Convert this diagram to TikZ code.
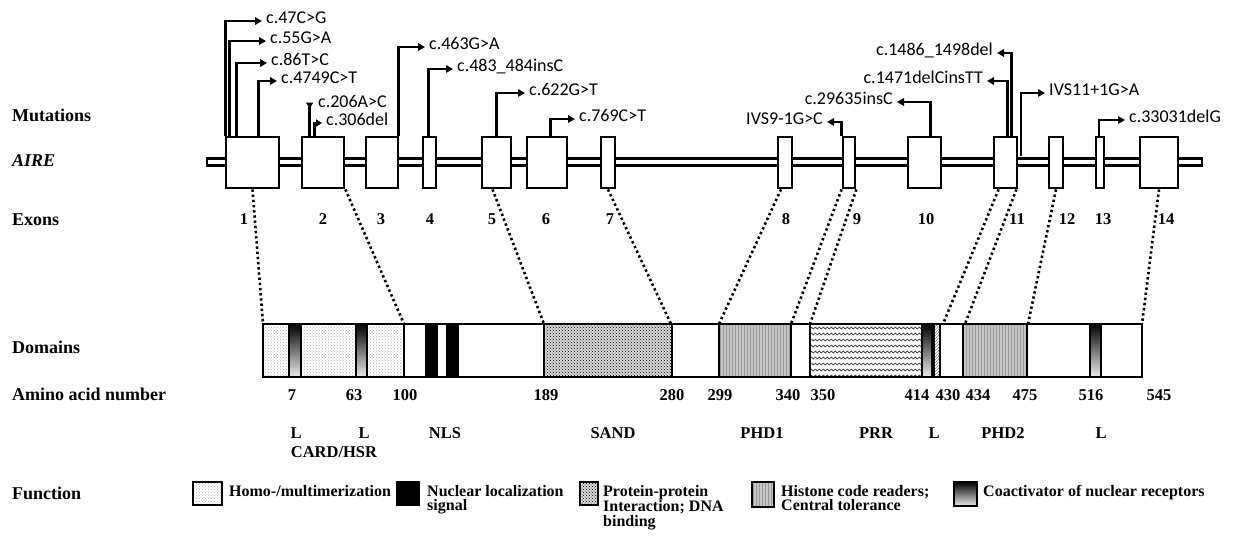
\documentclass[tikz,border=0pt]{standalone}
\usepackage{fontspec}
\setmainfont{Liberation Serif}
\newfontfamily\calfont{Carlito}
\usetikzlibrary{arrows.meta,patterns,calc,decorations.pathmorphing}
\begin{document}
\begin{tikzpicture}[x=1pt,y=-1pt,
  side/.style={font=\fontsize{18}{20}\selectfont\bfseries, anchor=west, inner sep=0pt, text height=12pt, text depth=0pt},
  exon/.style={draw, line width=2.8pt, fill=white, minimum height=51pt, inner sep=0pt},
  mut/.style={line width=2.6pt, -{Triangle[length=7pt,width=7.5pt]}},
  mr/.style={font=\calfont\fontsize{18}{20}\selectfont, inner sep=0pt, inner xsep=4pt, text height=8pt, text depth=3.6pt, anchor=west},
  ml/.style={mr, anchor=east},
  num/.style={font=\fontsize{16.5}{18}\selectfont\bfseries, inner sep=0pt, text height=11pt, text depth=0pt},
  dotl/.style={line width=2.6pt, dash pattern=on 2.4pt off 2.8pt},
  seg/.style={draw, line width=2pt},
  homo/.style={seg, pattern=crosshatch dots, pattern color=gray!60},
  nls/.style={seg, fill=black},
  sand/.style={seg, preaction={fill=gray!30}, pattern=crosshatch dots, pattern color=black},
  phd/.style={seg, preaction={fill=gray!45}, pattern=vertical lines, pattern color=gray!80},
  coact/.style={seg, top color=black, bottom color=gray!15},
  hatch/.style={seg, pattern=north east lines, pattern color=gray},
  leg/.style={font=\fontsize{16}{14.5}\selectfont\bfseries, align=left, inner sep=0pt, anchor=north west},
  legbox/.style={line width=2.6pt}
]
\useasboundingbox (0,0) rectangle (1236,539);

% left labels
\node[side] (lmut) at (12,115) {Mutations};
\node[side] (laire) at (12,160) {\itshape AIRE};
\node[side] (lexon) at (12,219) {Exons};
\node[side] (ldom) at (12,347) {Domains};
\node[side] (laa) at (12,394) {Amino acid number};
\node[side] (lfun) at (12,493) {Function};

% backbone
\node[draw, line width=2.8pt, fill=white, minimum width=995pt, minimum height=7.5pt, inner sep=0pt] (bb) at (704.5,162) {};

% exons
\node[exon, minimum width=53pt] (e1) at (252.5,162.5) {};
\node[exon, minimum width=42pt] (e2) at (323,162.5) {};
\node[exon, minimum width=32pt] (e3) at (382,162.5) {};
\node[exon, minimum width=13pt] (e4) at (429.5,162.5) {};
\node[exon, minimum width=29pt] (e5) at (496.5,162.5) {};
\node[exon, minimum width=40pt] (e6) at (547,162.5) {};
\node[exon, minimum width=14pt] (e7) at (608,162.5) {};
\node[exon, minimum width=14pt] (e8) at (785,162.5) {};
\node[exon, minimum width=12pt] (e9) at (849,162.5) {};
\node[exon, minimum width=33pt] (e10) at (924.5,162.5) {};
\node[exon, minimum width=23pt] (e11) at (1005.5,162.5) {};
\node[exon, minimum width=14pt] (e12) at (1056,162.5) {};
\node[exon, minimum width=8pt] (e13) at (1100,162.5) {};
\node[exon, minimum width=38pt] (e14) at (1159,162.5) {};

% exon numbers
\foreach \n/\xx in {1/244,2/323,3/381,4/430,5/492,6/546,7/610,8/786,9/857,10/926,11/1017,12/1067,13/1103,14/1166}
  \node[num] (n\n) at (\xx,219) {\n};

% mutations
\node[mr] (m1) at (262,21) {c.47C>G};
\node[mr] (m2) at (266,41) {c.55G>A};
\node[mr] (m3) at (267,63) {c.86T>C};
\node[mr] (m4) at (277,81) {c.4749C>T};
\node[mr] (m5) at (314,105) {c.206A>C};
\node[mr] (m6) at (322,123) {c.306del};
\node[mr] (m7) at (425,47) {c.463G>A};
\node[mr] (m8) at (453,69) {c.483\_484insC};
\node[mr] (m9) at (525,93) {c.622G>T};
\node[mr] (m10) at (575,119) {c.769C>T};
\node[ml] (m11) at (827,122) {IVS9-1G>C};
\node[ml] (m12) at (897,102) {c.29635insC};
\node[ml] (m13) at (987,81) {c.1471delCinsTT};
\node[ml] (m14) at (997,53) {c.1486\_1498del};
\node[mr] (m15) at (1045,93) {IVS11+1G>A};
\node[mr] (m16) at (1125,120) {c.33031delG};

\draw[mut] ($(e1.north west)+(1,0)$) |- (m1.west);
\draw[mut] ($(e1.north west)+(5,0)$) |- (m2.west);
\draw[mut] ($(e1.north west)+(12,0)$) |- (m3.west);
\draw[mut] ($(e1.north west)+(34,0)$) |- (m4.west);
\draw[line width=2.6pt, -{Triangle[reversed,length=6pt,width=7pt]}] ($(e2.north west)+(9,0)$) -- ++(0,-33);
\draw[line width=2.6pt, -{Triangle[length=6pt,width=7pt]}] ($(e2.north west)+(14,0)$) |- (m6.west);
\draw[mut] ($(e3.north east)+(-1,0)$) |- (m7.west);
\draw[mut] ($(e4.north)+(-1,0)$) |- (m8.west);
\draw[mut] (e5.north) |- (m9.west);
\draw[mut] ($(e6.north west)+(25,0)$) |- (m10.west);
\draw[mut] (e9.north west) |- (m11.east);
\draw[mut] ($(e10.north west)+(24,0)$) |- (m12.east);
\draw[mut] ($(e11.north west)+(15,0)$) |- (m13.east);
\draw[mut] ($(e11.north west)+(19,0)$) |- (m14.east);
\draw[mut] ($(e11.north east)+(2.5,20)$) |- (m15.west);
\draw[mut] ($(e13.north)+(-1,0)$) |- (m16.west);

% domain bar anchor points
\coordinate (d1) at (263,324);
\coordinate (d2) at (404,324);
\coordinate (d3) at (544,324);
\coordinate (d4) at (671,324);
\coordinate (d5) at (719,324);
\coordinate (d6) at (791,324);
\coordinate (d7) at (810,324);
\coordinate (d8) at (943,324);
\coordinate (d9) at (965,324);
\coordinate (d10) at (1028,324);
\coordinate (d11) at (1142,324);

\draw[dotl] (e1.south) -- (d1);
\draw[dotl] (e2.south east) -- (d2);
\draw[dotl] ($(e5.south)+(-4,0)$) -- (d3);
\draw[dotl] (e7.south) -- (d4);
\draw[dotl] ($(e8.south)+(-4,0)$) -- (d5);
\draw[dotl] (e9.south west) -- (d6);
\draw[dotl] (e9.south east) -- (d7);
\draw[dotl] ($(e11.south west)+(6,0)$) -- (d8);
\draw[dotl] ($(e11.south east)+(-2,0)$) -- (d9);
\draw[dotl] (e12.south) -- (d10);
\draw[dotl] (e14.south) -- (d11);

% domain bar
\fill[white] (263,324) rectangle (1142,377);
\draw[homo] (263,324) rectangle (289,377);
\draw[coact] (289,324) rectangle (301,377);
\draw[homo] (301,324) rectangle (356,377);
\draw[coact] (356,324) rectangle (367,377);
\draw[homo] (367,324) rectangle (404,377);
\draw[nls] (426,324) rectangle (437,377);
\draw[nls] (447,324) rectangle (458,377);
\draw[sand] (544,324) rectangle (672,377);
\draw[phd] (719,324) rectangle (791,377);
\begin{scope}
  \clip (810,324) rectangle (922,377);
  \foreach \yy in {328,334,...,376}
    \draw[gray!60!black, line width=0.8pt, decorate, decoration={snake, amplitude=0.9pt, segment length=4pt}] (806,\yy) -- (926,\yy);
\end{scope}
\draw[seg] (810,324) rectangle (922,377);
\draw[coact] (922,324) rectangle (932,377);
\draw[hatch] (934,324) rectangle (940,377);
\draw[phd] (963,324) rectangle (1027,377);
\draw[coact] (1090,324) rectangle (1101,377);
\draw[line width=2.8pt] (263,324) rectangle (1142,377);

% amino acid numbers
\foreach \t/\xx in {7/292,63/354,100/405,189/546,280/672,299/720,340/788,350/823,414/917,430/948,434/978,475/1025,516/1091,545/1159}
  \node[num] (a\t) at (\xx,395) {\t};

% domain names
\node[num] (l1) at (296,433) {L};
\node[num] (l2) at (364,433) {L};
\node[num] (nls) at (445,433) {NLS};
\node[num] (sandl) at (613,433) {SAND};
\node[num] (phd1) at (762,433) {PHD1};
\node[num] (prr) at (876,433) {PRR};
\node[num] (l3) at (934,433) {L};
\node[num] (phd2) at (1003,433) {PHD2};
\node[num] (l4) at (1101,433) {L};
\node[num] (card) at (334,452) {CARD/HSR};

% legend
\draw[legbox, homo] (193,482) rectangle (222,505);
\node[leg] (t1) at (229,485) {Homo-/multimerization};
\draw[legbox, fill=black] (397,482) rectangle (419,505);
\node[leg] (t2) at (427,485) {Nuclear localization\\signal};
\draw[legbox, sand] (580,482) rectangle (598,505);
\node[leg] (t3) at (603,485) {Protein-protein\\Interaction; DNA\\binding};
\draw[legbox, phd] (752,482) rectangle (774,507);
\node[leg] (t4) at (781,485) {Histone code readers;\\Central tolerance};
\draw[legbox, coact] (954,482) rectangle (977,506);
\node[leg] (t5) at (983,485) {Coactivator of nuclear receptors};
\end{tikzpicture}
\end{document}
